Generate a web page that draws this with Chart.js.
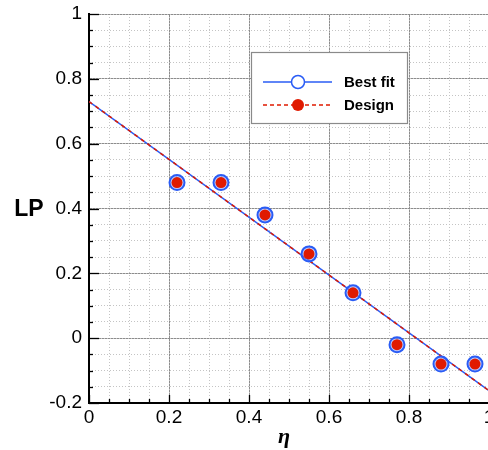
<!DOCTYPE html>
<html>
<head>
<meta charset="utf-8">
<script src="https://cdn.jsdelivr.net/npm/chart.js@4/dist/chart.umd.min.js"></script>
<style>
  html, body { margin: 0; padding: 0; background: #fff; overflow: hidden; }
  #c { display: block; }
</style>
</head>
<body>
<canvas id="c" width="500" height="450"></canvas>
<script>
// data
const eta = [0.22, 0.33, 0.44, 0.55, 0.66, 0.77, 0.88, 0.965];
const lp = [0.48, 0.48, 0.38, 0.26, 0.14, -0.02, -0.08, -0.08];
const fitEta = [0, 1];
const bestFit = [0.73, -0.162];
const design = [0.73, -0.162];
const legendLabels = ['Best fit', 'Design'];

const BLUE = '#2a5cf5';
const RED = '#e01a00';

function pts(xs, ys) {
    var out = [];
    for (let i = 0; i < xs.length; i++) {
        out.push({x: xs[i], y: ys[i]});
    }
    return out;
}

function fmt(v) {
    var r = Math.round(v * 100) / 100;
    if (Math.abs(r) < 1e-9) return '0';
    return String(r);
}

// inward tick marks, axis titles and the boxed legend
const extras = {
    id: 'extras',
    beforeDatasetsDraw: function(chart) {
        var ctx = chart.ctx;
        var a = chart.chartArea;
        var xs = chart.scales.xMinor, ys = chart.scales.yMinor;
        ctx.save();
        ctx.strokeStyle = '#000';
        ctx.lineWidth = 1.3;
        xs.ticks.forEach(function(t) {
            var px = Math.round(xs.getPixelForValue(t.value)) + 0.5;
            var major = Math.abs(t.value / 0.2 - Math.round(t.value / 0.2)) < 1e-6;
            ctx.beginPath();
            ctx.moveTo(px, a.bottom);
            ctx.lineTo(px, a.bottom - (major ? 8 : 4));
            ctx.stroke();
        });
        ys.ticks.forEach(function(t) {
            var py = Math.round(ys.getPixelForValue(t.value)) + 0.5;
            var major = Math.abs(t.value / 0.2 - Math.round(t.value / 0.2)) < 1e-6;
            ctx.beginPath();
            ctx.moveTo(a.left, py);
            ctx.lineTo(a.left + (major ? 10 : 4), py);
            ctx.stroke();
        });
        ctx.restore();
    },
    afterDraw: function(chart) {
        var ctx = chart.ctx;
        ctx.save();
        ctx.fillStyle = '#000';
        ctx.textBaseline = 'middle';
        ctx.textAlign = 'center';
        ctx.font = 'bold 23px "Liberation Sans", Arial, sans-serif';
        ctx.fillText('LP', 29, 210);
        ctx.font = 'bold italic 22px "Liberation Serif", "DejaVu Serif", serif';
        ctx.fillText('η', 284, 437);

        // legend
        var bx = 251.5, by = 52.5, bw = 156, bh = 71;
        ctx.fillStyle = '#fff';
        ctx.fillRect(bx, by, bw, bh);
        ctx.strokeStyle = '#8a8a8a';
        ctx.lineWidth = 1.2;
        ctx.strokeRect(bx, by, bw, bh);

        var rows = [82, 105];
        // best fit row
        ctx.strokeStyle = BLUE;
        ctx.lineWidth = 1.5;
        ctx.beginPath();
        ctx.moveTo(263, rows[0]);
        ctx.lineTo(332, rows[0]);
        ctx.stroke();
        ctx.fillStyle = '#fff';
        ctx.beginPath();
        ctx.arc(298, rows[0], 6.5, 0, Math.PI * 2);
        ctx.fill();
        ctx.stroke();
        // design row
        ctx.strokeStyle = RED;
        ctx.setLineDash([4, 3]);
        ctx.beginPath();
        ctx.moveTo(263, rows[1]);
        ctx.lineTo(332, rows[1]);
        ctx.stroke();
        ctx.setLineDash([]);
        ctx.fillStyle = RED;
        ctx.beginPath();
        ctx.arc(298, rows[1], 6, 0, Math.PI * 2);
        ctx.fill();

        ctx.fillStyle = '#000';
        ctx.textAlign = 'left';
        ctx.font = 'bold 15px "Liberation Sans", Arial, sans-serif';
        ctx.fillText(legendLabels[0], 344, rows[0] + 1);
        ctx.fillText(legendLabels[1], 344, rows[1] + 1);
        ctx.restore();
    }
};

new Chart(document.getElementById('c'), {
    type: 'scatter',
    data: {
        datasets: [{
            label: 'Design points',
            data: pts(eta, lp),
            pointRadius: 5.5,
            pointBackgroundColor: RED,
            pointBorderWidth: 0,
            showLine: false
        }, {
            label: 'Best fit points',
            data: pts(eta, lp),
            pointRadius: 7.5,
            pointBackgroundColor: 'rgba(120,150,255,0.5)',
            pointBorderColor: BLUE,
            pointBorderWidth: 2,
            showLine: false
        }, {
            type: 'line',
            label: legendLabels[1],
            data: pts(fitEta, design),
            borderColor: RED,
            borderWidth: 1.5,
            borderDash: [4, 4],
            pointRadius: 0,
            fill: false
        }, {
            type: 'line',
            label: legendLabels[0],
            data: pts(fitEta, bestFit),
            borderColor: BLUE,
            borderWidth: 1.5,
            pointRadius: 0,
            fill: false
        }]
    },
    options: {
        responsive: false,
        animation: false,
        devicePixelRatio: 1,
        layout: { padding: { top: 14, right: 11, bottom: 0, left: 0 } },
        plugins: { legend: { display: false }, tooltip: { enabled: false } },
        scales: {
            x: {
                type: 'linear', position: 'bottom', min: 0, max: 1,
                ticks: {
                    stepSize: 0.2, padding: 3, color: '#000',
                    font: { family: '"Liberation Sans", Arial, sans-serif', size: 19 },
                    callback: fmt
                },
                grid: { color: '#8c8c8c', lineWidth: 1, drawTicks: false },
                border: { color: '#000', width: 2 },
                afterFit: function(s) { s.height = 47; s.paddingLeft = 0; s.paddingRight = 0; }
            },
            xMinor: {
                type: 'linear', position: 'bottom', min: 0, max: 1,
                ticks: { stepSize: 0.05, display: false },
                grid: { color: '#c4c4c4', lineWidth: 1, drawTicks: false, z: -1 },
                border: { display: false, dash: [1, 2] },
                afterFit: function(s) { s.height = 0; s.paddingLeft = 0; s.paddingRight = 0; }
            },
            y: {
                type: 'linear', position: 'left', min: -0.2, max: 1,
                ticks: {
                    stepSize: 0.2, padding: 7, color: '#000',
                    font: { family: '"Liberation Sans", Arial, sans-serif', size: 19 },
                    callback: fmt
                },
                grid: { color: '#8c8c8c', lineWidth: 1, drawTicks: false },
                border: { color: '#000', width: 2 },
                afterFit: function(s) { s.width = 89; s.paddingTop = 0; s.paddingBottom = 0; }
            },
            yMinor: {
                type: 'linear', position: 'left', min: -0.2, max: 1,
                ticks: { stepSize: 0.05, display: false },
                grid: { color: '#c4c4c4', lineWidth: 1, drawTicks: false, z: -1 },
                border: { display: false, dash: [1, 2] },
                afterFit: function(s) { s.width = 0; s.paddingTop = 0; s.paddingBottom = 0; }
            }
        }
    },
    plugins: [extras]
});
</script>
</body>
</html>
